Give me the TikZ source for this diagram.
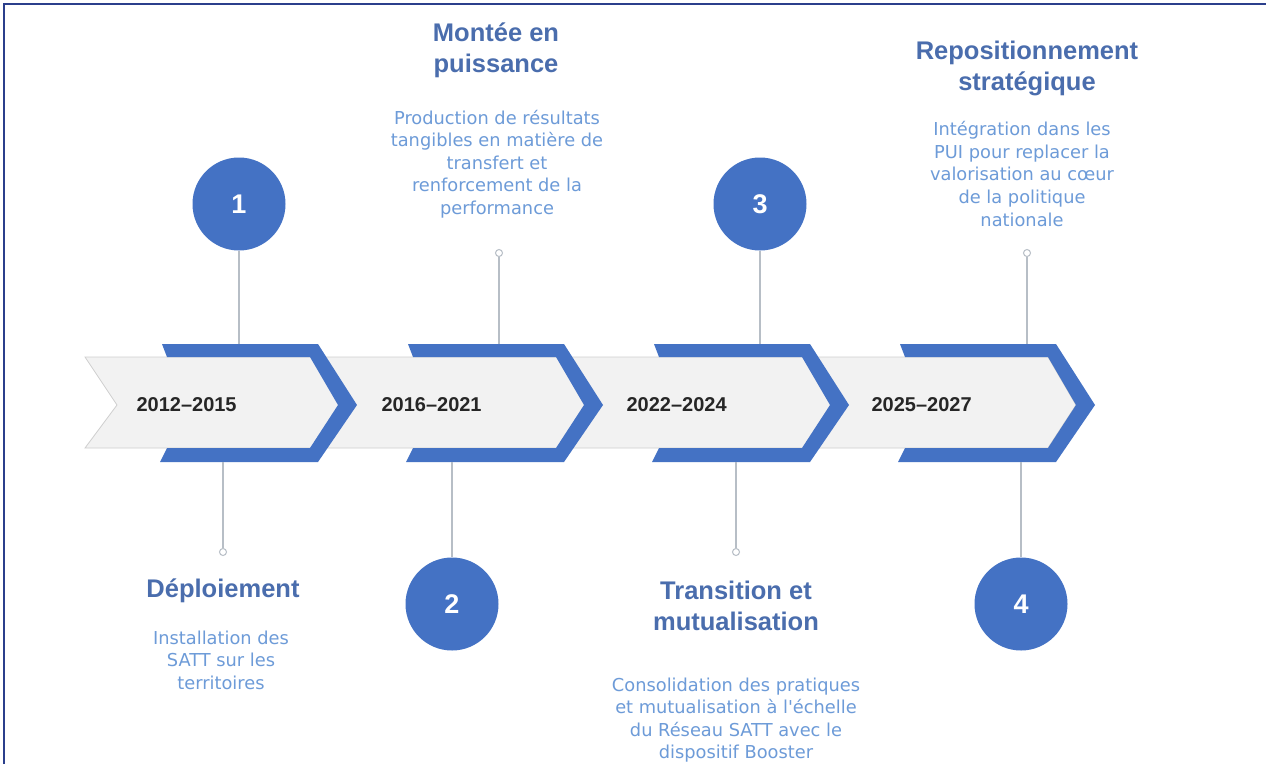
\documentclass[tikz,border=0pt]{standalone}
\usepackage{fontspec}
\setmainfont{Liberation Sans}
\newfontfamily\bodyfont{DejaVu Sans}
\definecolor{blu}{HTML}{4472C4}
\definecolor{ttl}{HTML}{4A6DAD}
\definecolor{bdy}{HTML}{6D9BD8}
\definecolor{bandfill}{HTML}{F2F2F2}
\definecolor{bandline}{HTML}{CFCFCF}
\definecolor{conn}{HTML}{B7BEC6}
\definecolor{framec}{HTML}{2B3F8C}
\begin{document}
\begin{tikzpicture}[x=1pt,y=-1pt,
  num/.style={circle,fill=blu,minimum size=93pt,inner sep=0pt,text=white,font=\bfseries\fontsize{27}{27}\selectfont},
  mk/.style={circle,draw=conn,fill=white,line width=1pt,minimum size=7pt,inner sep=0pt},
  ttlnode/.style={align=center,text=ttl,font=\bfseries\fontsize{25.5}{31}\selectfont},
  bdynode/.style={align=center,text=bdy,font=\bodyfont\fontsize{17.8}{22.6}\selectfont},
  yearlbl/.style={anchor=west,text=black!85,font=\bfseries\fontsize{20}{20}\selectfont},
  conline/.style={draw=conn,line width=1.2pt}]
\useasboundingbox (0,0) rectangle (1266,764);
\fill[white] (0,0) rectangle (1266,764);
% frame
\draw[framec,line width=1.5pt] (4,764) -- (4,4) -- (1266,4);
% band
\filldraw[fill=bandfill,draw=bandline,line width=0.8pt] (85,357) -- (1048,357) -- (1076,405) -- (1048,448) -- (85,448) -- (117,405) -- cycle;
% chevrons
\foreach \a in {160,406,652,898}{
  \fill[blu] ({\a+2},344) -- ({\a+158},344) -- ({\a+197},405) -- ({\a+158},462) -- (\a,462) -- ({\a+7},448) -- ({\a+150},448) -- ({\a+178},405) -- ({\a+150},357) -- ({\a+7},357) -- cycle;
}
% year labels
\node[yearlbl] (y1) at (133,405) {2012–2015};
\node[yearlbl] (y2) at (378,405) {2016–2021};
\node[yearlbl] (y3) at (623,405) {2022–2024};
\node[yearlbl] (y4) at (868,405) {2025–2027};
% anchor coordinates on the bars
\coordinate (t1) at (239,344);
\coordinate (t2) at (499,344);
\coordinate (t3) at (760,344);
\coordinate (t4) at (1027,344);
\coordinate (b1) at (223,462);
\coordinate (b2) at (452,462);
\coordinate (b3) at (736,462);
\coordinate (b4) at (1021,462);
% circles and markers
\node[num] (c1) at (239,204) {1};
\node[num] (c2) at (452,604) {2};
\node[num] (c3) at (760,204) {3};
\node[num] (c4) at (1021,604) {4};
\node[mk] (m1) at (223,552) {};
\node[mk] (m2) at (499,253) {};
\node[mk] (m3) at (736,552) {};
\node[mk] (m4) at (1027,253) {};
% connectors
\draw[conline] (c1.south) -- (t1);
\draw[conline] (m2.south) -- (t2);
\draw[conline] (c3.south) -- (t3);
\draw[conline] (m4.south) -- (t4);
\draw[conline] (b1) -- (m1.north);
\draw[conline] (b2) -- (c2.north);
\draw[conline] (b3) -- (m3.north);
\draw[conline] (b4) -- (c4.north);
% texts
\node[ttlnode] (tt2) at (496,50) {Montée en\\puissance};
\node[bdynode] (bd2) at (497,164) {Production de résultats\\tangibles en matière de\\transfert et\\renforcement de la\\performance};
\node[ttlnode] (tt4) at (1027,68) {Repositionnement\\stratégique};
\node[bdynode] (bd4) at (1022,174) {Intégration dans les\\PUI pour replacer la\\valorisation au cœur\\de la politique\\nationale};
\node[ttlnode] (tt1) at (223,591) {Déploiement};
\node[bdynode] (bd1) at (221,660) {Installation des\\SATT sur les\\territoires};
\node[ttlnode] (tt3) at (736,606) {Transition et\\mutualisation};
\node[bdynode] (bd3) at (736,720) {Consolidation des pratiques\\et mutualisation à l'échelle\\du Réseau SATT avec le\\dispositif Booster};
\end{tikzpicture}
\end{document}
